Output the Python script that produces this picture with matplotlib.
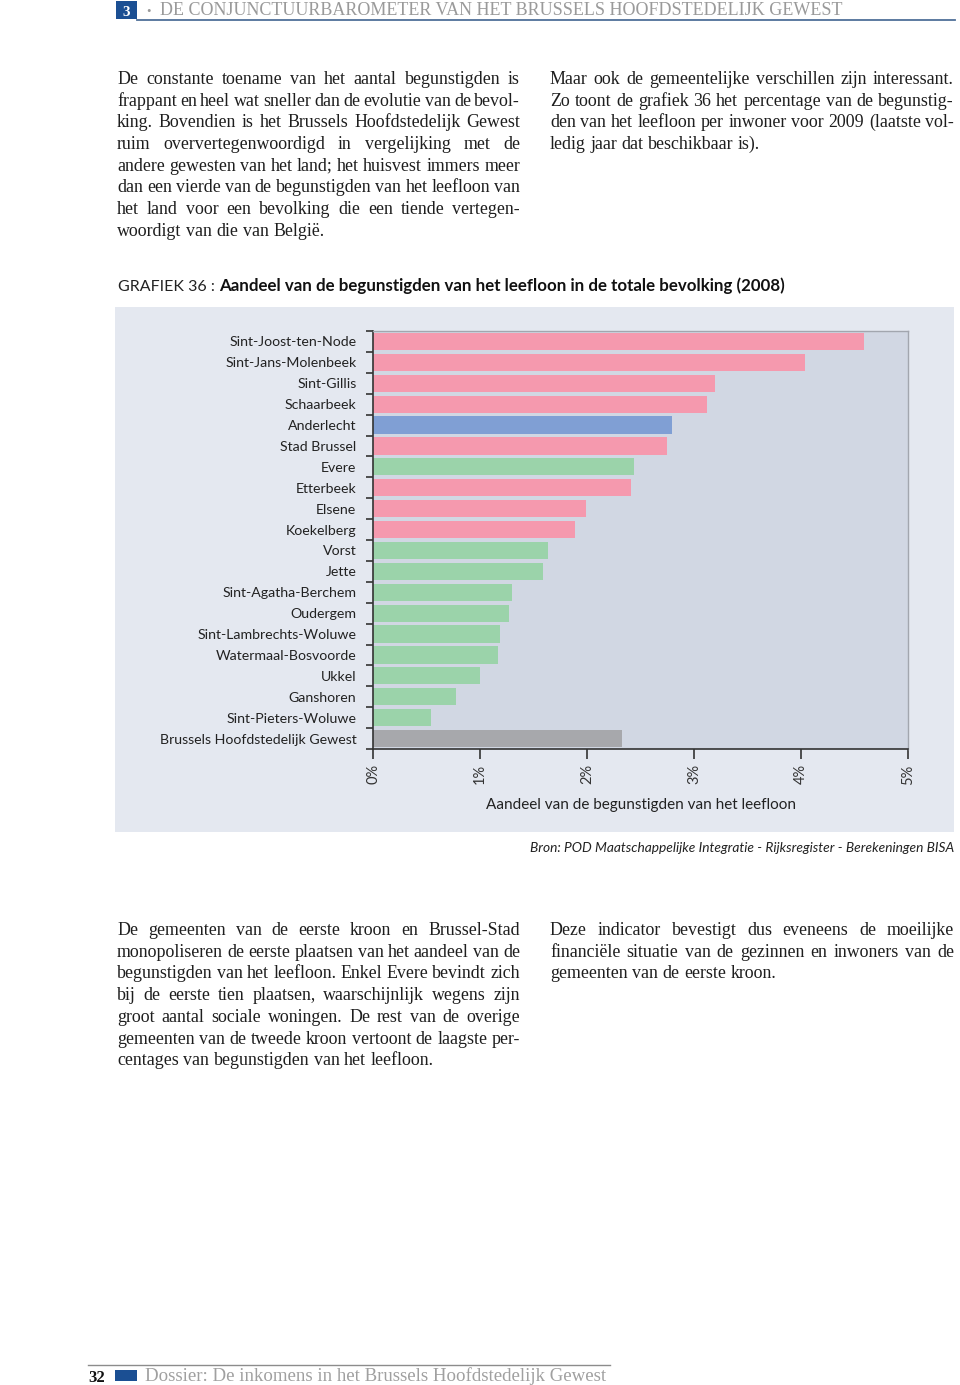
import matplotlib
matplotlib.use("Agg")
import matplotlib.pyplot as plt
from matplotlib.patches import Rectangle
from matplotlib.lines import Line2D
import numpy as np

# ---------------- data ----------------
communes = ["Sint-Joost-ten-Node", "Sint-Jans-Molenbeek", "Sint-Gillis", "Schaarbeek",
            "Anderlecht", "Stad Brussel", "Evere", "Etterbeek", "Elsene", "Koekelberg",
            "Vorst", "Jette", "Sint-Agatha-Berchem", "Oudergem", "Sint-Lambrechts-Woluwe",
            "Watermaal-Bosvoorde", "Ukkel", "Ganshoren", "Sint-Pieters-Woluwe",
            "Brussels Hoofdstedelijk Gewest"]
shares = [4.59, 4.04, 3.20, 3.12, 2.79, 2.75, 2.44, 2.41, 1.99, 1.89,
          1.64, 1.59, 1.30, 1.27, 1.19, 1.17, 1.00, 0.78, 0.54, 2.33]
groups = ["k1", "k1", "k1", "k1", "and", "k1", "k2", "k1", "k1", "k1",
          "k2", "k2", "k2", "k2", "k2", "k2", "k2", "k2", "k2", "gew"]
group_colors = {"k1": "#f599ae", "and": "#809fd4", "k2": "#9bd3aa", "gew": "#a7a8ac"}
xticks = [0, 1, 2, 3, 4, 5]
xtick_labels = ["0%", "1%", "2%", "3%", "4%", "5%"]

title_a = "GRAFIEK 36 : "
title_b = "Aandeel van de begunstigden van het leefloon in de totale bevolking (2008)"
xlabel = "Aandeel van de begunstigden van het leefloon"
source = "Bron: POD Maatschappelijke Integratie - Rijksregister - Berekeningen BISA"
header = "DE CONJUNCTUURBAROMETER VAN HET BRUSSELS HOOFDSTEDELIJK GEWEST"
footer = "Dossier: De inkomens in het Brussels Hoofdstedelijk Gewest"

para_left_top = [
    "De constante toename van het aantal begunstigden is",
    "frappant en heel wat sneller dan de evolutie van de bevol-",
    "king. Bovendien is het Brussels Hoofdstedelijk Gewest",
    "ruim oververtegenwoordigd in vergelijking met de",
    "andere gewesten van het land; het huisvest immers meer",
    "dan een vierde van de begunstigden van het leefloon van",
    "het land voor een bevolking die een tiende vertegen-",
    "woordigt van die van België.",
]
para_right_top = [
    "Maar ook de gemeentelijke verschillen zijn interessant.",
    "Zo toont de grafiek 36 het percentage van de begunstig-",
    "den van het leefloon per inwoner voor 2009 (laatste vol-",
    "ledig jaar dat beschikbaar is).",
]
para_left_bot = [
    "De gemeenten van de eerste kroon en Brussel-Stad",
    "monopoliseren de eerste plaatsen van het aandeel van de",
    "begunstigden van het leefloon. Enkel Evere bevindt zich",
    "bij de eerste tien plaatsen, waarschijnlijk wegens zijn",
    "groot aantal sociale woningen. De rest van de overige",
    "gemeenten van de tweede kroon vertoont de laagste per-",
    "centages van begunstigden van het leefloon.",
]
para_right_bot = [
    "Deze indicator bevestigt dus eveneens de moeilijke",
    "financiële situatie van de gezinnen en inwoners van de",
    "gemeenten van de eerste kroon.",
]

# ---------------- figure ----------------
W, H = 960, 1385
fig = plt.figure(figsize=(W / 100, H / 100), dpi=100)
fig.patch.set_facecolor("white")
renderer = fig.canvas.get_renderer()


def fx(x):
    return x / W


def fy(y):
    return 1 - y / H


def text_width(s, **kw):
    t = fig.text(0, 0, s, **kw)
    w = t.get_window_extent(renderer).width
    t.remove()
    return w


def fit_size(s, target, base=10, **kw):
    return base * target / text_width(s, fontsize=base, **kw)


SERIF = ["Liberation Serif", "DejaVu Serif"]
SANS = ["Lato", "DejaVu Sans"]
BODY_COLOR = "#1e1e1e"


def draw_paragraph(lines, x0, y_base0, width, lh, fs):
    kw = dict(fontsize=fs, family=SERIF)
    space = text_width("a a", **kw) - text_width("aa", **kw)
    for i, line in enumerate(lines):
        words = line.split()
        ws = [text_width(w, **kw) for w in words]
        last = i == len(lines) - 1
        if last or len(words) == 1:
            gap = space
        else:
            gap = (width - sum(ws)) / (len(words) - 1)
        x = x0
        yb = y_base0 + i * lh
        for w, wd in zip(words, ws):
            fig.text(fx(x), fy(yb), w, va="baseline", ha="left",
                     color=BODY_COLOR, **kw)
            x += wd + gap


# body font size: the tightest line slightly exceeds the column (tight spacing)
all_lines = para_left_top + para_right_top + para_left_bot + para_right_bot
nat = max(text_width(l, fontsize=10, family=SERIF) for l in all_lines)
body_fs = 10 * 403 / nat * 1.025

LH = 21.7
draw_paragraph(para_left_top, 117, 84, 403, LH, body_fs)
draw_paragraph(para_right_top, 550, 84, 404, LH, body_fs)
draw_paragraph(para_left_bot, 117, 935, 403, LH, body_fs)
draw_paragraph(para_right_bot, 550, 935, 404, LH, body_fs)

# ---------------- header ----------------
fig.patches.append(Rectangle((fx(116), fy(19)), fx(137) - fx(116), fy(1) - fy(19),
                             transform=fig.transFigure, facecolor="#1b4f93",
                             edgecolor="none"))
fig.text(fx(126.5), fy(16), "3", ha="center", va="baseline", color="white",
         fontsize=11, fontweight="bold", family=SERIF)
fig.lines.append(Line2D([fx(137), fx(955)], [fy(19.5), fy(19.5)],
                        transform=fig.transFigure, color="#4f6f98", lw=1.3))
fig.text(fx(146), fy(15), "•", ha="left", va="baseline", color="#9a9a9a",
         fontsize=9, family=SERIF)
hs = fit_size(header, 843 - 160, family=SERIF)
fig.text(fx(160), fy(15), header, ha="left", va="baseline", color="#9a9a9a",
         fontsize=hs, family=SERIF)

# ---------------- footer ----------------
fig.lines.append(Line2D([fx(88), fx(610)], [fy(1364.5), fy(1364.5)],
                        transform=fig.transFigure, color="#8c8c8c", lw=1.0))
fig.text(fx(88), fy(1382), "32", ha="left", va="baseline", color="#111111",
         fontsize=12, fontweight="bold", family=SERIF)
fig.patches.append(Rectangle((fx(115), fy(1381)), fx(137) - fx(115), fy(1370) - fy(1381),
                             transform=fig.transFigure, facecolor="#1b4f93",
                             edgecolor="none"))
fs_f = fit_size(footer, 608 - 145, family=SERIF)
fig.text(fx(145), fy(1381), footer, ha="left", va="baseline", color="#a0a0a0",
         fontsize=fs_f, family=SERIF)

# ---------------- chart title ----------------
ts_a = 11.5
wa = text_width(title_a, fontsize=ts_a, family=SANS)
wb_target = 787 - 118 - wa
tsb = fit_size(title_b, wb_target, family=SANS, fontweight="bold")
fig.text(fx(118), fy(291), title_a, ha="left", va="baseline", color="#222222",
         fontsize=ts_a, family=SANS)
fig.text(fx(118) + wa / W, fy(291), title_b, ha="left", va="baseline",
         color="#111111", fontsize=tsb, family=SANS, fontweight="bold")

# ---------------- chart panel ----------------
fig.patches.append(Rectangle((fx(115), fy(832)), fx(954) - fx(115), fy(307) - fy(832),
                             transform=fig.transFigure, facecolor="#e4e8f0",
                             edgecolor="none", zorder=-10))

ax = fig.add_axes([fx(373), fy(749), fx(908) - fx(373), fy(331) - fy(749)])
ax.set_zorder(5)
ax.set_facecolor("#d1d7e3")
n = len(communes)
ypos = np.arange(n)
colors = [group_colors[g] for g in groups]
ax.barh(ypos, shares, height=0.82, color=colors, edgecolor="none", zorder=2)
ax.set_ylim(n - 0.5, -0.5)
ax.set_xlim(0, 5)

ax.set_yticks(ypos)
ax.set_yticklabels(communes, fontsize=10.2, family=SANS, color="#222222")
ax.tick_params(axis="y", which="major", length=0, pad=12)
ax.set_yticks(np.arange(-0.5, n, 1.0), minor=True)
ax.tick_params(axis="y", which="minor", length=5, width=1.2, color="#333333",
               direction="out")

ax.set_xticks(xticks)
ax.set_xticklabels(xtick_labels, rotation=90, fontsize=10.5, family=SANS,
                   color="#333333")
ax.tick_params(axis="x", which="major", length=7, width=1.2, color="#333333",
               direction="out", pad=4)
ax.set_xlabel(xlabel, fontsize=11, family=SANS, color="#222222", labelpad=10)

for side in ["top", "right"]:
    ax.spines[side].set_color("#a2a6ae")
    ax.spines[side].set_linewidth(1.0)
for side in ["left", "bottom"]:
    ax.spines[side].set_color("#333333")
    ax.spines[side].set_linewidth(1.2)

# ---------------- source ----------------
ss = fit_size(source, 954 - 530, family=SANS, style="italic")
fig.text(fx(954), fy(852), source, ha="right", va="baseline", color="#222222",
         fontsize=ss, family=SANS, style="italic")

fig.savefig("out.png", dpi=100)
